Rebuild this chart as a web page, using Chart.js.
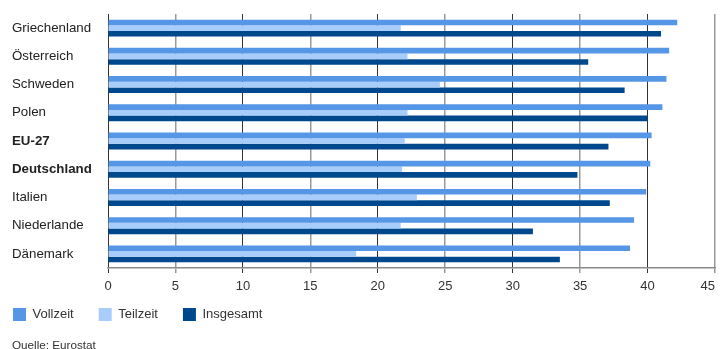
<!DOCTYPE html>
<html>
<head>
<meta charset="utf-8">
<script src="https://cdn.jsdelivr.net/npm/chart.js@4/dist/chart.umd.min.js"></script>
<style>
  html, body { margin: 0; padding: 0; background: #fff; }
  #wrap { width: 721px; height: 349px; position: relative; }
</style>
</head>
<body>
<div id="wrap"><canvas id="c" width="721" height="349"></canvas></div>
<script>
const categories = ['Griechenland', 'Österreich', 'Schweden', 'Polen', 'EU-27', 'Deutschland', 'Italien', 'Niederlande', 'Dänemark'];
const boldCategories = ['EU-27', 'Deutschland'];
const vollzeit  = [42.2, 41.6, 41.4, 41.1, 40.3, 40.2, 39.9, 39.0, 38.7];
const teilzeit  = [21.7, 22.2, 24.6, 22.2, 22.0, 21.8, 22.9, 21.7, 18.4];
const insgesamt = [41.0, 35.6, 38.3, 40.0, 37.1, 34.8, 37.2, 31.5, 33.5];
const seriesNames = ['Vollzeit', 'Teilzeit', 'Insgesamt'];
const xTicks = { min: 0, max: 45, step: 5 };
const sourceText = 'Quelle: Eurostat';

const FONT = '"Liberation Sans", Arial, Helvetica, sans-serif';
const colors = ['#5596e6', '#a8cdfb', '#00488e'];

const sourcePlugin = {
  id: 'sourceText',
  afterLayout(chart) {
    // pull the legend row up closer to the axis labels
    if (chart.legend) {
      chart.legend.top -= 15;
      chart.legend.bottom -= 15;
    }
  },
  beforeDraw(chart) {
    // keep the last x tick label inside the canvas (right-aligned on its grid line)
    const sx = chart.scales.x;
    const items = sx.getLabelItems(chart.chartArea);
    if (items && items.length) {
      items[items.length - 1].options.textAlign = 'right';
    }
  },
  afterDraw(chart) {
    const ctx = chart.ctx;
    ctx.save();
    ctx.font = '11.7px ' + FONT;
    ctx.fillStyle = '#333';
    ctx.textAlign = 'left';
    ctx.textBaseline = 'alphabetic';
    ctx.fillText(sourceText, 12, 348.5);
    ctx.restore();
  }
};

new Chart(document.getElementById('c'), {
  type: 'bar',
  data: {
    labels: categories,
    datasets: [
      { label: seriesNames[0], data: vollzeit,  backgroundColor: colors[0] },
      { label: seriesNames[1], data: teilzeit,  backgroundColor: colors[1] },
      { label: seriesNames[2], data: insgesamt, backgroundColor: colors[2] }
    ]
  },
  options: {
    indexAxis: 'y',
    responsive: false,
    animation: false,
    devicePixelRatio: 1,
    layout: { padding: { top: 14, left: -12, right: 6, bottom: 3 } },
    datasets: { bar: { categoryPercentage: 0.6, barPercentage: 1.0, borderWidth: 0 } },
    scales: {
      x: {
        type: 'linear',
        min: xTicks.min,
        max: xTicks.max,
        afterFit(scale) {
          scale.height = 30;
          scale.paddingLeft = 0;
          scale.paddingRight = 0;
        },
        ticks: {
          stepSize: xTicks.step,
          padding: 6,
          color: '#333',
          font: { family: FONT, size: 13 }
        },
        grid: {
          color: (ctx) => (ctx.index % 2 === 0 ? '#333333' : '#999999'),
          lineWidth: (ctx) => (ctx.index % 2 === 0 ? 1 : 1.5),
          tickLength: 5,
          drawTicks: true
        },
        border: { display: true, color: '#8a8a8a', width: 1.5 }
      },
      y: {
        type: 'category',
        afterFit(scale) { scale.width = 120; },
        ticks: {
          mirror: true,
          padding: -96,
          crossAlign: 'near',
          color: '#222',
          font: (ctx) => ({
            family: FONT,
            size: 13.3,
            weight: (ctx.tick && boldCategories.includes(ctx.tick.label)) ? 'bold' : 'normal'
          })
        },
        grid: { display: false },
        border: { display: false }
      }
    },
    plugins: {
      legend: {
        position: 'bottom',
        align: 'start',
        labels: {
          boxWidth: 13,
          boxHeight: 13,
          padding: 25,
          color: '#333',
          font: { family: FONT, size: 13 }
        }
      },
      tooltip: { enabled: false }
    }
  },
  plugins: [sourcePlugin]
});
</script>
</body>
</html>
